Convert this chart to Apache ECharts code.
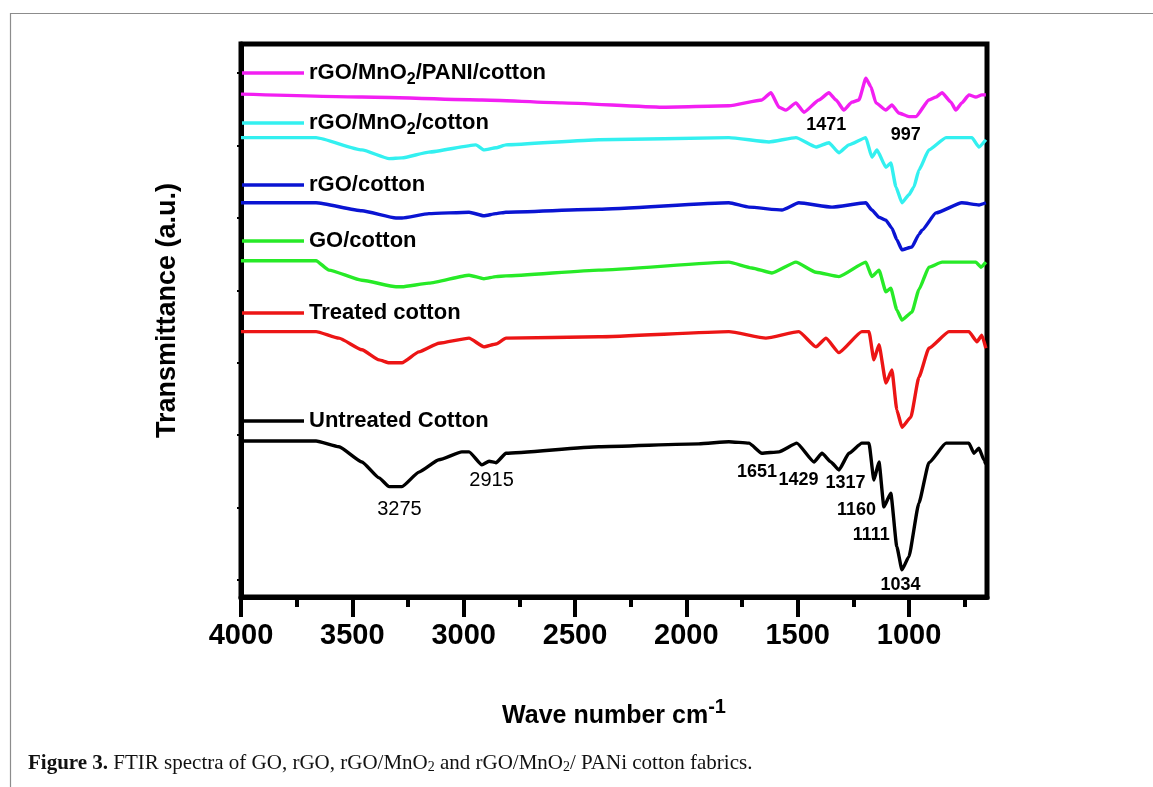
<!DOCTYPE html>
<html>
<head>
<meta charset="utf-8">
<script src="https://cdn.jsdelivr.net/npm/echarts@6/dist/echarts.min.js"></script>
<style>
  html, body { margin: 0; padding: 0; background: #fff; }
  #chart { width: 1153px; height: 787px; }
</style>
</head>
<body>
<div id="chart"></div>
<script>
// FTIR spectra: [wavenumber (cm^-1), transmittance (a.u., curves stacked)]
const untreatedCotton = [
  [4000,1.92],[3663,1.92],[3560,1.84],[3457,1.63],[3380,1.41],[3335,1.29],[3277,1.29],[3201,1.49],
  [3111,1.66],[3008,1.77],[2976,1.77],[2918,1.59],[2886,1.64],[2855,1.62],[2810,1.75],[2393,1.84],
  [1944,1.88],[1809,1.91],[1719,1.89],[1661,1.75],[1584,1.77],[1504,1.89],[1427,1.63],[1391,1.75],
  [1351,1.63],[1315,1.52],[1270,1.75],[1212,1.89],[1180,1.89],[1158,1.38],[1135,1.63],[1113,1.01],
  [1082,1.20],[1055,0.46],[1032,0.14],[1001,0.32],[956,1.06],[911,1.62],[834,1.89],[731,1.89],
  [709,1.75],[686,1.82],[664,1.66],[655,1.60]
];
const treatedCotton = [
  [4000,3.43],[3663,3.43],[3560,3.34],[3457,3.18],[3380,3.04],[3335,3.00],[3277,3.00],[3201,3.15],
  [3111,3.27],[2976,3.34],[2909,3.22],[2855,3.26],[2810,3.34],[2393,3.36],[1809,3.43],[1643,3.34],
  [1495,3.43],[1418,3.22],[1373,3.34],[1315,3.14],[1212,3.43],[1180,3.43],[1158,3.04],[1135,3.25],
  [1104,2.72],[1077,2.90],[1055,2.35],[1032,2.11],[992,2.25],[956,2.80],[911,3.20],[821,3.43],
  [731,3.43],[695,3.29],[673,3.38],[655,3.20]
];
const goCotton = [
  [4000,4.41],[3663,4.41],[3605,4.28],[3457,4.14],[3304,4.05],[3277,4.05],[3156,4.10],[2976,4.21],
  [2909,4.16],[2855,4.19],[2810,4.20],[2393,4.28],[1809,4.39],[1706,4.31],[1616,4.24],[1508,4.39],
  [1418,4.25],[1315,4.19],[1194,4.39],[1167,4.19],[1135,4.28],[1104,3.98],[1082,4.03],[1055,3.73],
  [1032,3.59],[987,3.70],[956,4.01],[911,4.32],[852,4.39],[700,4.39],[677,4.32],[655,4.39]
];
const rgoCotton = [
  [4000,5.21],[3663,5.21],[3457,5.10],[3304,5.00],[3277,5.00],[3156,5.06],[2976,5.08],[2909,5.03],
  [2855,5.06],[2810,5.08],[2393,5.12],[1809,5.21],[1719,5.15],[1571,5.11],[1495,5.21],[1346,5.15],
  [1194,5.21],[1167,5.11],[1135,5.01],[1104,4.97],[1077,4.86],[1055,4.70],[1032,4.56],[987,4.60],
  [956,4.77],[942,4.83],[879,5.07],[763,5.21],[686,5.18],[655,5.21]
];
const rgoMnO2Cotton = [
  [4000,6.11],[3663,6.11],[3457,5.94],[3335,5.82],[3277,5.83],[3156,5.91],[2945,6.01],[2909,5.94],
  [2855,5.97],[2810,6.01],[2393,6.08],[1809,6.11],[1629,6.05],[1508,6.11],[1418,5.98],[1360,6.04],
  [1315,5.90],[1270,6.01],[1194,6.11],[1167,5.84],[1144,5.94],[1104,5.70],[1082,5.76],[1059,5.43],
  [1032,5.21],[1001,5.32],[978,5.43],[956,5.66],[911,5.94],[834,6.11],[718,6.11],[686,5.98],[655,6.08]
];
const rgoMnO2PaniCotton = [
  [4000,6.71],[3457,6.67],[2918,6.63],[2559,6.59],[2110,6.53],[1809,6.55],[1661,6.63],[1620,6.73],
  [1584,6.53],[1553,6.49],[1508,6.59],[1472,6.46],[1405,6.63],[1360,6.73],[1328,6.63],[1293,6.49],
  [1257,6.60],[1225,6.63],[1194,6.93],[1171,6.81],[1149,6.59],[1104,6.49],[1077,6.56],[1046,6.45],
  [1001,6.40],[969,6.40],[911,6.63],[879,6.67],[852,6.73],[812,6.60],[790,6.49],[763,6.59],
  [731,6.70],[700,6.67],[673,6.70],[655,6.70]
];

const seriesNames = ['rGO/MnO2/PANI/cotton', 'rGO/MnO2/cotton', 'rGO/cotton', 'GO/cotton', 'Treated cotton', 'Untreated Cotton'];
const seriesData = [rgoMnO2PaniCotton, rgoMnO2Cotton, rgoCotton, goCotton, treatedCotton, untreatedCotton];

// band assignments (cm^-1) and the level where each label sits
const peakWavenumbers = [3275, 2915, 1651, 1429, 1317, 1160, 1111, 1034, 1471, 997];
const peakLabelLevels = [0.97, 1.38, 1.49, 1.38, 1.34, 0.97, 0.62, -0.07, 6.29, 6.15];

const xTickValues = [4000, 3500, 3000, 2500, 2000, 1500, 1000];
const xMinorTickValues = [3750, 3250, 2750, 2250, 1750, 1250, 750];
const yTickValues = [0, 1, 2, 3, 4, 5, 6, 7];

// drawing styles
const colors = ['#f21ff2', '#33f0f0', '#0a14d2', '#27ea27', '#ec1515', '#000000'];
const legendCenters = [73, 123, 185, 241, 313, 421];
const peakOffsets = [[-3, 0], [9, 0], [-7, 0], [-15, 0], [7, 0], [-17, 0], [-13, 0], [-1, 0], [22, 0], [-4, 0]];
const peakBold = [false, false, true, true, true, true, true, true, true, true];

const sans = '"Liberation Sans", Arial, sans-serif';
const serif = '"Liberation Serif", "DejaVu Serif", serif';

const withSub = name => name.replace(/MnO2/g, 'MnO{sub|2}');

const chart = echarts.init(document.getElementById('chart'), null, { renderer: 'canvas' });

const option = {
  animation: false,
  backgroundColor: '#fff',
  grid: {
    left: 241, top: 44, right: 166, bottom: 190,
    show: true, borderColor: '#000', borderWidth: 5, backgroundColor: 'transparent'
  },
  xAxis: [{
    type: 'value', min: 650, max: 4000, inverse: true,
    axisLine: { show: true, onZero: false, lineStyle: { color: '#000', width: 5 } },
    axisTick: { show: true, customValues: xTickValues, length: 20, lineStyle: { color: '#000', width: 4 } },
    axisLabel: {
      customValues: xTickValues, margin: 24, color: '#000',
      fontFamily: sans, fontWeight: 'bold', fontSize: 29,
      formatter: v => String(v)
    },
    splitLine: { show: false },
    name: 'Wave number cm{sup|-1}', nameLocation: 'middle', nameGap: 100,
    nameTextStyle: {
      color: '#000', fontFamily: sans, fontWeight: 'bold', fontSize: 25, lineHeight: 38,
      rich: { sup: { fontFamily: sans, fontWeight: 'bold', fontSize: 20, lineHeight: 18, verticalAlign: 'top', color: '#000' } }
    }
  }, {
    type: 'value', min: 650, max: 4000, inverse: true, position: 'bottom',
    axisLine: { show: false, onZero: false },
    axisTick: { show: true, inside: false, customValues: xMinorTickValues, length: 10, lineStyle: { color: '#000', width: 4 } },
    axisLabel: { show: false },
    splitLine: { show: false }
  }],
  yAxis: {
    type: 'value', min: -0.235, max: 7.403,
    axisLine: { show: true, onZero: false, lineStyle: { color: '#000', width: 5 } },
    axisTick: { show: true, customValues: yTickValues, length: 4, lineStyle: { color: '#000', width: 2 } },
    axisLabel: { show: false },
    splitLine: { show: false },
    name: 'Transmittance (a.u.)', nameLocation: 'middle', nameGap: 60, nameRotate: 90,
    nameTextStyle: { color: '#000', fontFamily: sans, fontWeight: 'bold', fontSize: 27, padding: [0, 0, 0, 20] }
  },
  legend: seriesNames.map((name, i) => ({
    data: [name],
    left: 242, top: legendCenters[i] - 15,
    padding: 0, itemGap: 0,
    itemWidth: 62, itemHeight: 3.5, icon: 'rect',
    selectedMode: false,
    formatter: withSub,
    textStyle: {
      color: '#000', fontFamily: sans, fontWeight: 'bold', fontSize: 22, lineHeight: 30,
      rich: { sub: { fontFamily: sans, fontWeight: 'bold', fontSize: 16, lineHeight: 16, verticalAlign: 'bottom', color: '#000' } }
    }
  })),
  series: seriesNames.map((name, i) => ({
    name, type: 'line', data: seriesData[i],
    showSymbol: false, symbol: 'none', smooth: 0.15, smoothMonotone: 'x',
    color: colors[i],
    lineStyle: { color: colors[i], width: 3.4, join: 'round' },
    silent: true
  })).concat([{
    name: 'peaks', type: 'scatter', symbolSize: 0, silent: true,
    itemStyle: { opacity: 1 },
    data: peakWavenumbers.map((w, i) => ({
      value: [w, peakLabelLevels[i]],
      label: {
        offset: peakOffsets[i],
        color: '#000',
        fontWeight: peakBold[i] ? 'bold' : 'normal',
        fontSize: peakBold[i] ? 18 : 20
      }
    })),
    label: {
      show: true, position: 'inside', color: '#000', fontFamily: sans,
      textBorderWidth: 0, opacity: 1,
      formatter: p => String(p.value[0])
    }
  }]),
  graphic: [{
    type: 'rect', left: 8, top: 11, silent: true,
    shape: { width: 1300, height: 900 },
    style: { fill: 'none', stroke: '#8c8c8c', lineWidth: 1.2 }
  }, {
    type: 'text', left: 28, top: 753, silent: true,
    style: {
      text: '{b|Figure 3.} FTIR spectra of GO, rGO, rGO/MnO{s|2} and rGO/MnO{s|2}/ PANi cotton fabrics.',
      fill: '#111', font: '21px ' + serif,
      rich: {
        b: { fontWeight: 'bold', fontFamily: serif, fontSize: 21, fill: '#111' },
        s: { fontFamily: serif, fontSize: 14, verticalAlign: 'bottom', lineHeight: 13, fill: '#111' }
      }
    }
  }]
};

chart.setOption(option);
</script>
</body>
</html>
